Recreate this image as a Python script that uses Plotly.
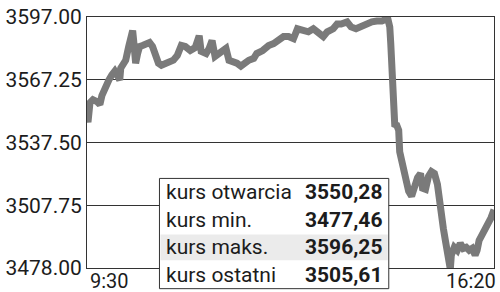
import plotly.graph_objects as go

# minutes after 9:30 and index level
minutes = [0, 1, 3, 6, 10, 13, 15, 18, 22, 25, 28, 31, 33, 34, 37, 39, 42, 44, 46, 47,
           49, 51, 53, 56, 60, 63, 66, 69, 72, 75, 79, 83, 87, 91, 95, 99,
           104, 109, 113, 115, 120, 123, 126, 129, 133, 137, 140, 143, 147, 151, 155, 158,
           163, 168, 171, 177, 183, 188, 193, 198, 203, 208, 212, 217, 223, 228, 233, 238,
           242, 248, 252, 256, 262, 266, 271, 277, 282, 287, 292, 297, 303, 305, 306, 307,
           308, 309, 310, 312, 314, 315, 318, 321, 324, 327, 330, 333, 336, 338, 341, 344,
           347, 350, 353, 355, 357, 359, 361, 363, 365, 366, 367, 370, 373, 376, 379, 382,
           385, 388, 391, 393, 395, 398, 401, 404, 407, 410]
prices = [3550.28, 3547.1, 3556.4, 3557.8, 3556.9, 3555.5, 3559.7, 3563.4, 3567.1, 3569.5,
          3571.3, 3569.0, 3567.1, 3572.7, 3576.0, 3576.5, 3583.0, 3589.1, 3590.5, 3585.8,
          3575.1, 3579.7, 3583.0, 3583.5, 3584.4, 3584.9, 3583.0, 3578.8, 3575.1, 3574.1,
          3575.1, 3576.0, 3576.5, 3578.8, 3583.5, 3583.0,
          3581.1, 3582.5, 3588.1, 3580.7, 3579.7, 3582.1, 3585.8, 3578.3, 3579.7, 3581.1,
          3582.1, 3576.5, 3576.0, 3575.1, 3573.7, 3575.1,
          3576.5, 3577.4, 3579.7, 3581.1, 3583.5, 3584.4, 3585.8, 3587.7, 3587.7, 3586.7,
          3591.4, 3590.5, 3590.0, 3591.4, 3589.1, 3587.7,
          3590.0, 3591.4, 3593.7, 3593.7, 3594.7, 3592.3, 3591.4, 3592.8, 3593.7, 3594.7,
          3595.1, 3595.1, 3596.25, 3592.3, 3584.4, 3575.1,
          3561.1, 3551.7, 3546.1, 3545.7, 3543.3, 3533.1, 3526.1, 3520.0, 3514.4, 3512.1,
          3517.7, 3520.9, 3522.8, 3515.8, 3515.3, 3521.4,
          3523.7, 3522.8, 3517.7, 3508.8, 3502.7, 3496.7, 3491.1, 3486.4, 3480.3, 3477.46,
          3484.1, 3487.8, 3486.4, 3489.7, 3487.3, 3487.8,
          3486.4, 3487.3, 3484.1, 3486.4, 3491.1, 3493.4, 3495.7, 3498.1, 3501.8, 3505.61]

y_ticks = [3478.00, 3507.75, 3537.50, 3567.25, 3597.00]
x_tick_labels = ["9:30", "16:20"]

table_labels = ["kurs otwarcia", "kurs min.", "kurs maks.", "kurs ostatni"]
table_values = [3550.28, 3477.46, 3596.25, 3505.61]

FONT = "Roboto"
TXT = "#1c1c1c"

fig = go.Figure()
fig.add_trace(go.Scatter(x=minutes, y=prices, mode="lines",
                         line=dict(color="#7a7a7a", width=7), hoverinfo="skip"))

W, H = 500, 292
L, R, T, B = 85, 5, 13, 24
pw, ph = W - L - R, H - T - B


def px(x):
    return (x - L) / pw


def py(y):
    return (H - B - y) / ph


shapes = []
annotations = []

# table box
bx0, bx1, by0, by1 = 158, 389, 177, 289
row_h = (by1 - by0) / 4
shapes.append(dict(type="rect", xref="paper", yref="paper", layer="above",
                   x0=px(bx0), x1=px(bx1), y0=py(by1), y1=py(by0),
                   fillcolor="white", line=dict(color="#333333", width=1)))
# highlighted row
shapes.append(dict(type="rect", xref="paper", yref="paper", layer="above",
                   x0=px(bx0 + 1), x1=px(bx1 - 1), y0=py(by0 + 3 * row_h - 1), y1=py(by0 + 2 * row_h + 1),
                   fillcolor="#ebebeb", line=dict(width=0)))
for i, (lab, val) in enumerate(zip(table_labels, table_values)):
    cy = by0 + (i + 0.5) * row_h
    annotations.append(dict(xref="paper", yref="paper", x=px(163), y=py(cy),
                            xanchor="left", yanchor="middle", showarrow=False,
                            text=lab, font=dict(family=FONT, size=21, color=TXT)))
    annotations.append(dict(xref="paper", yref="paper", x=px(384), y=py(cy),
                            xanchor="right", yanchor="middle", showarrow=False,
                            text="<b>" + f"{val:.2f}".replace(".", ",") + "</b>",
                            font=dict(family=FONT, size=21, color=TXT)))

# x tick labels
annotations.append(dict(xref="paper", yref="paper", x=0, y=py(281), xanchor="left",
                        yanchor="middle", xshift=1, showarrow=False, text=x_tick_labels[0],
                        font=dict(family=FONT, size=20, color=TXT)))
annotations.append(dict(xref="paper", yref="paper", x=1, y=py(281), xanchor="right",
                        yanchor="middle", xshift=4, showarrow=False, text=x_tick_labels[1],
                        font=dict(family=FONT, size=20, color=TXT)))

fig.update_layout(
    width=W, height=H, margin=dict(l=L, r=R, t=T, b=B),
    paper_bgcolor="white", plot_bgcolor="white", showlegend=False,
    xaxis=dict(range=[0, 410], showgrid=False, zeroline=False, showticklabels=False,
               showline=True, mirror=True, linecolor="#333333", linewidth=1, ticks=""),
    yaxis=dict(range=[3478, 3597], tickvals=y_ticks, ticktext=[f"{v:.2f}" for v in y_ticks],
               showgrid=True, gridcolor="#333333", gridwidth=1, zeroline=False,
               showline=True, mirror=True, linecolor="#333333", linewidth=1, ticks="",
               tickfont=dict(family=FONT, size=21, color=TXT)),
    shapes=shapes, annotations=annotations,
)

fig.write_html("out.html")
